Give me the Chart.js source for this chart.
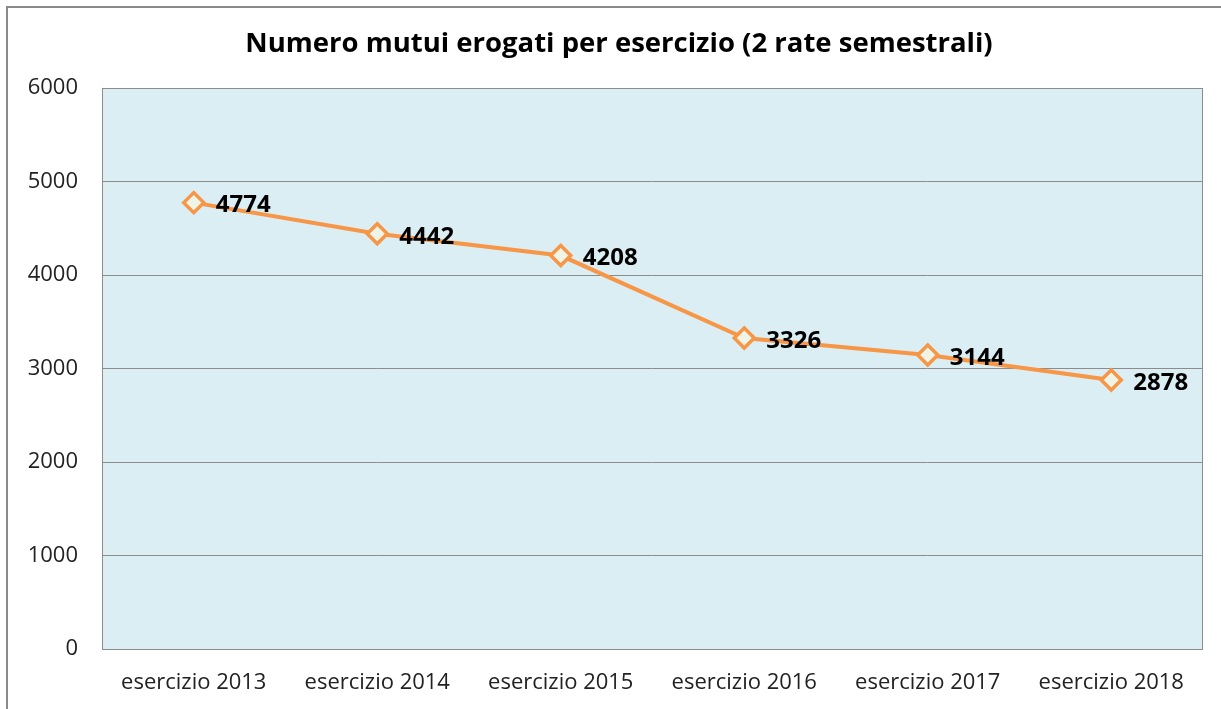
<!DOCTYPE html>
<html>
<head>
<meta charset="utf-8">
<script src="https://cdn.jsdelivr.net/npm/chart.js@4/dist/chart.umd.min.js"></script>
<style>
  html, body { margin: 0; padding: 0; background: #fff; overflow: hidden; }
  #frame { position: absolute; left: 6px; top: 6px; width: 1240px; height: 740px; border: 2px solid #8a8a8a; box-sizing: border-box; }
  #wrap { position: absolute; left: 0; top: 0; width: 1221px; height: 709px; }
</style>
</head>
<body>
<div id="frame"></div>
<div id="wrap"><canvas id="chart"></canvas></div>
<script>
// values
const categories = ['esercizio 2013', 'esercizio 2014', 'esercizio 2015', 'esercizio 2016', 'esercizio 2017', 'esercizio 2018'];
const mutui = [4774, 4442, 4208, 3326, 3144, 2878];
const chartTitle = 'Numero mutui erogati per esercizio (2 rate semestrali)';

const FONT = '"Open Sans", "Noto Sans", sans-serif';

// light blue plot background + gray border, title centred over the whole frame
const plotBackground = {
  id: 'plotBackground',
  beforeDraw(chart) {
    const { ctx, chartArea: a } = chart;
    ctx.save();
    ctx.fillStyle = '#DAEEF3';
    ctx.fillRect(a.left, a.top, a.right - a.left, a.bottom - a.top);
    ctx.restore();
  },
  afterDraw(chart) {
    const { ctx, chartArea: a } = chart;
    ctx.save();
    ctx.strokeStyle = '#8c8c8c';
    ctx.lineWidth = 1;
    ctx.strokeRect(a.left + 0.5, a.top + 0.5, a.right - a.left - 1, a.bottom - a.top);
    ctx.font = 'bold 27.5px ' + FONT;
    ctx.fillStyle = '#000';
    ctx.textAlign = 'center';
    ctx.textBaseline = 'middle';
    ctx.fillText(chartTitle, 619, a.top / 2);
    ctx.restore();
  }
};

// value labels to the right of each point
const valueLabels = {
  id: 'valueLabels',
  afterDatasetsDraw(chart) {
    const { ctx } = chart;
    const meta = chart.getDatasetMeta(0);
    ctx.save();
    ctx.font = 'bold 24px ' + FONT;
    ctx.fillStyle = '#000';
    ctx.textBaseline = 'middle';
    ctx.textAlign = 'left';
    meta.data.forEach((pt, i) => {
      ctx.fillText(String(chart.data.datasets[0].data[i]), pt.x + 22, pt.y + 3);
    });
    ctx.restore();
  }
};

new Chart(document.getElementById('chart'), {
  type: 'line',
  data: {
    labels: categories,
    datasets: [{
      label: 'Mutui',
      data: mutui,
      borderColor: '#F79646',
      borderWidth: 4,
      pointStyle: 'rectRot',
      pointRadius: 10,
      pointBorderWidth: 3.5,
      pointBackgroundColor: '#F0F4E6',
      pointBorderColor: '#F79646',
      tension: 0
    }]
  },
  options: {
    responsive: true,
    maintainAspectRatio: false,
    animation: false,
    layout: { padding: { left: 0, right: 18, top: 88, bottom: 0 } },
    scales: {
      x: {
        offset: true,
        grid: { display: false, drawTicks: false },
        border: { display: false },
        ticks: { color: '#222', font: { family: FONT, size: 22 }, padding: 21, maxRotation: 0 },
        afterFit(scale) { scale.height = 60; }
      },
      y: {
        min: 0,
        max: 6000,
        grid: { color: '#8c8c8c', lineWidth: 1, drawTicks: false },
        border: { display: false },
        ticks: {
          stepSize: 1000, color: '#222', font: { family: FONT, size: 22 }, padding: 24,
          callback: v => String(v)
        },
        afterFit(scale) { scale.width = 102; }
      }
    },
    plugins: {
      legend: { display: false },
      tooltip: { enabled: false },
      title: { display: false }
    }
  },
  plugins: [plotBackground, valueLabels]
});
</script>
</body>
</html>
